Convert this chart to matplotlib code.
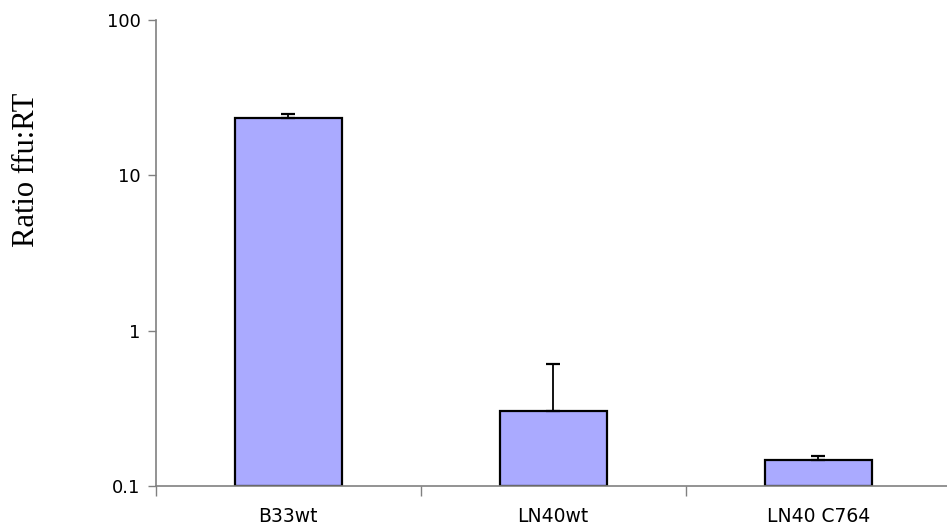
import matplotlib
matplotlib.use("Agg")
import matplotlib.pyplot as plt
from matplotlib.ticker import FixedLocator, FuncFormatter, NullLocator

categories = ["B33wt", "LN40wt", "LN40 C764"]
ratios = [23.4, 0.302, 0.147]
upper_err = [1.5, 0.31, 0.009]

fig = plt.figure(figsize=(9.47, 5.28), dpi=100)
ax = fig.add_axes([0.1644, 0.0801, 0.8395, 0.8815])

x = [i + 0.5 for i in range(len(categories))]
ax.bar(x, ratios, width=0.404, color="#aaaaff", edgecolor="black",
       linewidth=1.6, bottom=0.1, zorder=2)
# Excel bars start at the axis floor; draw heights relative to 0.1
for b, v in zip(ax.patches, ratios):
    b.set_height(v - 0.1)
ax.errorbar(x, ratios, yerr=[[0] * len(ratios), upper_err], fmt="none",
            ecolor="black", elinewidth=1.3, capsize=5, capthick=1.6, zorder=3)

ax.set_yscale("log")
ax.set_ylim(0.1, 100)
ax.set_xlim(0, 3)
ax.yaxis.set_major_locator(FixedLocator([0.1, 1, 10, 100]))
ax.yaxis.set_minor_locator(NullLocator())
ax.yaxis.set_major_formatter(FuncFormatter(lambda v, p: f"{v:g}"))

# category separators as major ticks, names centred as minor ticks
ax.set_xticks([0, 1, 2, 3])
ax.set_xticklabels([])
ax.set_xticks(x, minor=True)
ax.set_xticklabels(categories, minor=True)
ax.tick_params(axis="x", which="minor", length=0, pad=15, labelsize=13.5)
ax.tick_params(axis="x", which="major", length=7, width=1, color="#808080")
ax.tick_params(axis="y", length=6, width=1, color="#808080", labelsize=13, pad=5)

for side in ("top", "right"):
    ax.spines[side].set_visible(False)
for side in ("left", "bottom"):
    ax.spines[side].set_color("#808080")
    ax.spines[side].set_linewidth(1.2)

fig.text(0.028, 0.678, "Ratio ffu:RT", rotation=90, ha="center", va="center",
         fontsize=22, family="Liberation Serif")

fig.savefig("out.png", dpi=100)
